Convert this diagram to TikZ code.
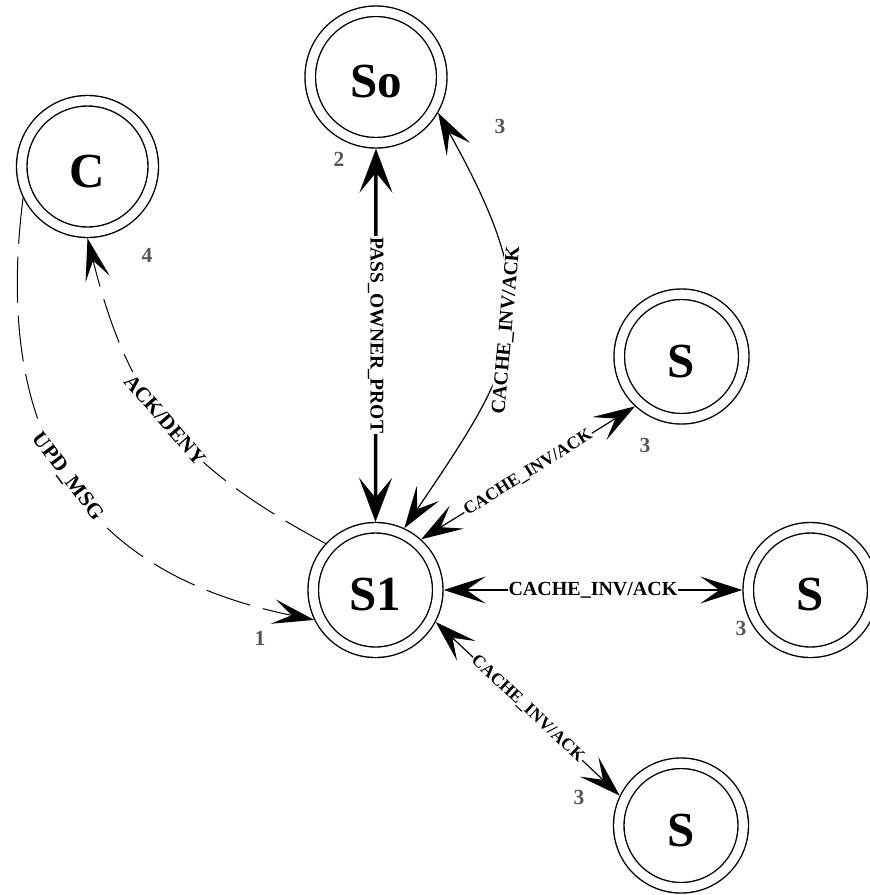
\documentclass[tikz,border=0pt]{standalone}
\usepackage{fontspec}
\setmainfont{Liberation Serif}
\usetikzlibrary{arrows.meta}
\definecolor{numgray}{HTML}{555555}
\tikzset{
  state/.style={circle, draw, line width=1.4pt, double, double distance=9.1pt,
    inner sep=0pt, outer sep=5.95pt, text height=41pt, text depth=0pt,
    font=\fontsize{49}{49}\selectfont\bfseries},
  bigstate/.style={state, minimum size=131.5pt},
  smallstate/.style={state, minimum size=124.5pt},
  link/.style={line width=1.2pt, >={Stealth[length=42pt,width=27pt,inset=19pt]}},
  owner/.style={line width=3.5pt, >={Stealth[length=44pt,width=33pt,inset=20pt]}},
  msg/.style={line width=1pt, dash pattern=on 46pt off 13pt,
    >={Stealth[length=42pt,width=25pt,inset=19pt]}},
  elabel/.style={fill=white, inner sep=1pt, font=\fontsize{20}{20}\selectfont\bfseries},
  elabelsmall/.style={elabel, font=\fontsize{17.5}{17.5}\selectfont\bfseries},
  num/.style={text=numgray, inner sep=0pt, font=\fontsize{21.5}{21.5}\selectfont\bfseries}
}
\begin{document}
\begin{tikzpicture}[x=1pt,y=-1pt]
\useasboundingbox[fill=white] (0,0) rectangle (870,895);

% states
\node[bigstate]   (So) at (376,77)       {So};
\node[bigstate]   (C)  at (87.5,166.5)   {C};
\node[smallstate] (S1) at (375.5,590)    {S1};
\node[smallstate] (Sa) at (681.5,356.5)  {S};
\node[smallstate] (Sb) at (810.5,590)    {S};
\node[smallstate] (Sc) at (681,825.5)    {S};

% ownership transfer
\draw[owner, <->] (So.south) -- (S1.north)
  node[pos=0.5, elabel, rotate=-90, font=\fontsize{19.5}{19.5}\selectfont\bfseries] {PASS\_OWNER\_PROT};

% invalidations
\draw[link, <->] (So.-30) .. controls (549,311) and (521,356) .. (S1.65)
  node[pos=0.5, elabel, rotate=85] {CACHE\_INV/ACK};
\draw[link, <->] (S1.48) -- (Sa.227)
  node[pos=0.5, elabelsmall, rotate=32] {CACHE\_INV/ACK};
\draw[link, <->] (S1.east) -- (Sb.west)
  node[pos=0.5, elabel] {CACHE\_INV/ACK};
\draw[link, <->] (S1.-28) -- (Sc.154)
  node[pos=0.5, elabelsmall, rotate=-43] {CACHE\_INV/ACK};

% client messages
\draw[msg, ->] (C.206) .. controls (-6,428) and (74,571) .. (S1.206)
  node[pos=0.5, elabel, font=\fontsize{21.5}{21.5}\selectfont\bfseries, rotate=-53] {UPD\_MSG};
\draw[msg, ->] (S1.137) .. controls (175,463) and (127,396) .. (C.south)
  node[pos=0.5, elabel, font=\fontsize{21}{21}\selectfont\bfseries, rotate=-49] {ACK/DENY};

% step numbers
\node[num] (n1) at (260,638) {1};
\node[num] (n2) at (339,159) {2};
\node[num] (n3a) at (500,126) {3};
\node[num] (n3b) at (645,445) {3};
\node[num] (n3c) at (741,628) {3};
\node[num] (n3d) at (579,797) {3};
\node[num] (n4) at (147,255) {4};
\end{tikzpicture}
\end{document}
